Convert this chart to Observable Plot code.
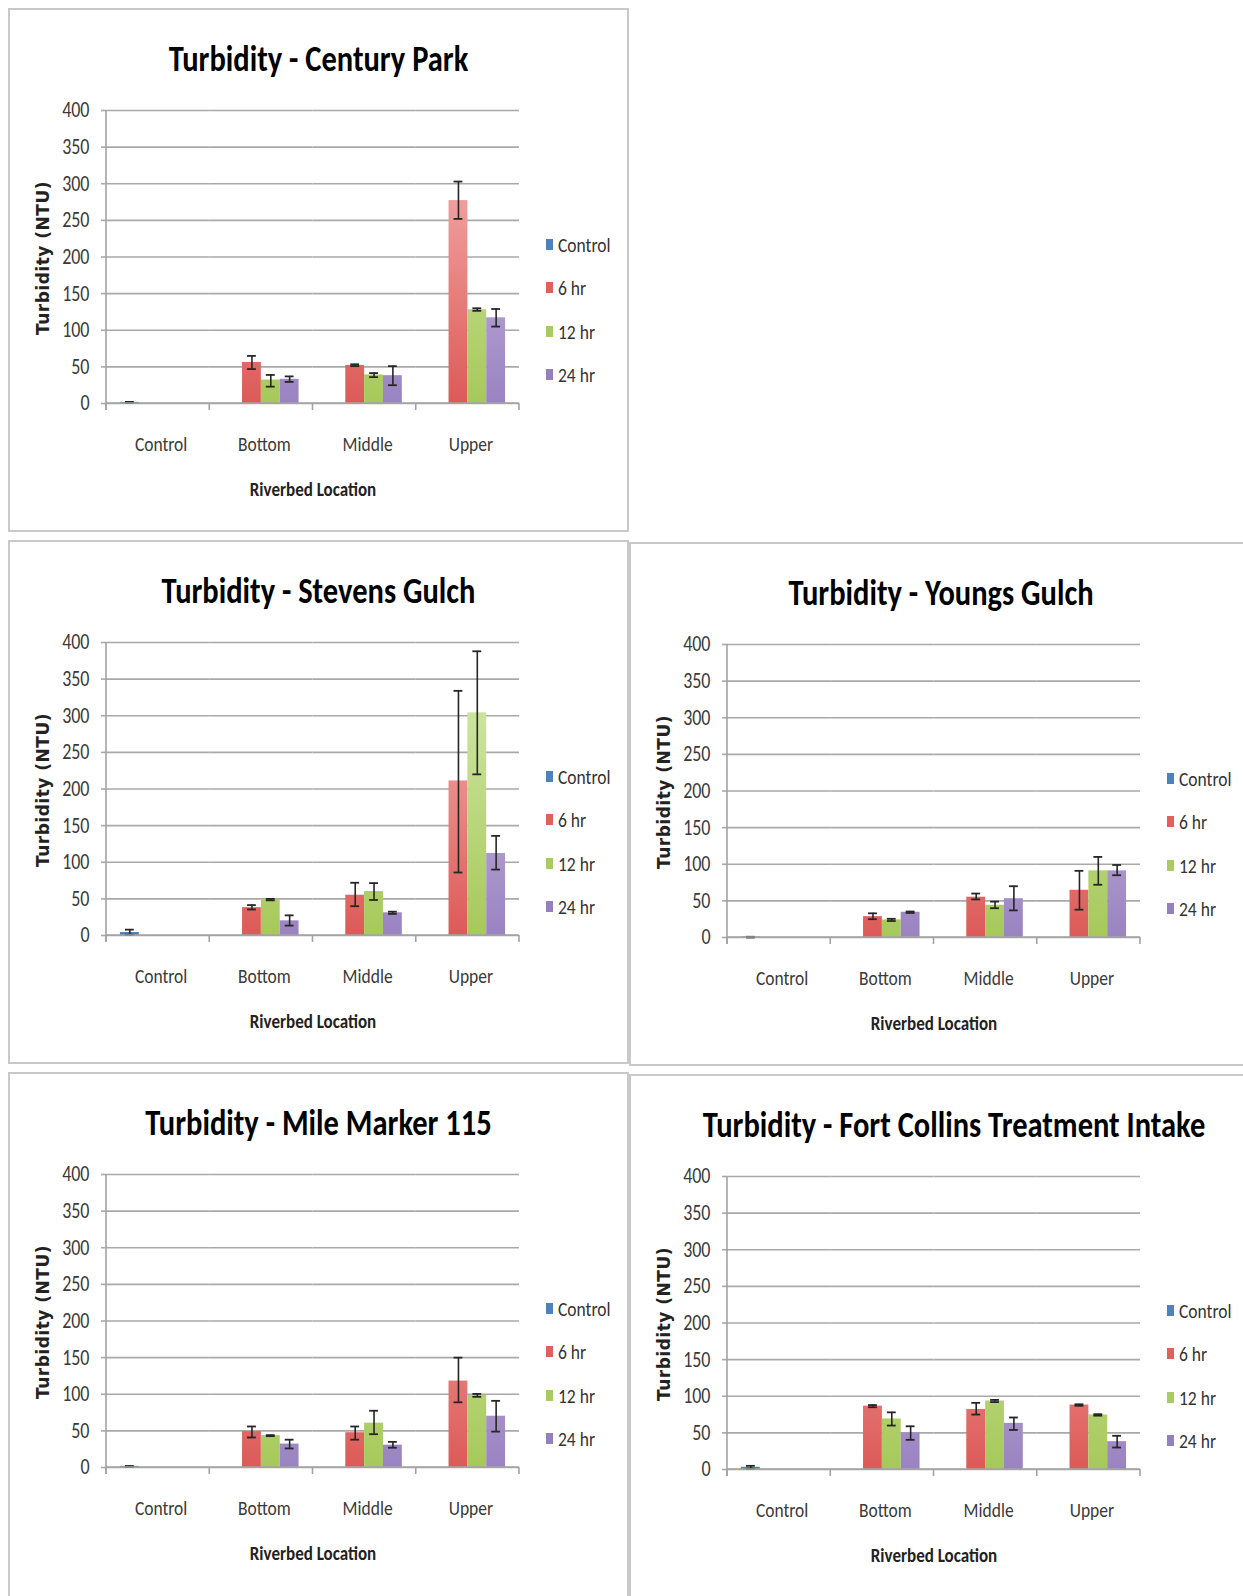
<!DOCTYPE html>
<html>
<head>
<meta charset="utf-8">
<script src="https://cdn.jsdelivr.net/npm/d3@7"></script>
<script src="https://cdn.jsdelivr.net/npm/@observablehq/plot@0.6"></script>
<style>
  html, body { margin: 0; padding: 0; background: #fff; }
  #root { position: relative; width: 1243px; height: 1596px; overflow: hidden; background: #fff; }
  .panel { position: absolute; background: #fff; box-shadow: inset 0 0 0 2px #c9c9c9; }
  .panel svg.chart { position: absolute; left: 0; top: 0; overflow: visible; }
  .f { font-family: Carlito, "Liberation Sans Narrow", sans-serif; }
  .title { position: absolute; left: 0; top: 33px; text-align: center; font-weight: bold; font-size: 30.5px; line-height: 36px; color: #000; white-space: nowrap; transform: scaleY(1.2); }
  .ylab { position: absolute; width: 220px; height: 20px; line-height: 20px; text-align: center; transform: rotate(-90deg);
          font-family: "DejaVu Sans", sans-serif; font-weight: bold; font-size: 17px; letter-spacing: 0.5px; color: #222; white-space: nowrap; }
  .xlab { position: absolute; width: 300px; text-align: center; font-weight: bold; font-size: 17px; line-height: 22px; color: #222; white-space: nowrap; transform: scaleY(1.2); }
  .leg { position: absolute; height: 24px; line-height: 24px; font-size: 17.5px; color: #333; white-space: nowrap; }
  .leg .sw { position: absolute; left: 0; top: 6px; width: 7px; height: 11px; }
  .leg .lt { position: absolute; left: 12px; top: 0; transform: scaleY(1.2); }
</style>
</head>
<body>
<div id="root"></div>
<svg width="0" height="0" style="position:absolute">
  <defs id="gradDefs"></defs>
</svg>
<script>
// ---------------- data ----------------
const locations = ["Control", "Bottom", "Middle", "Upper"];
const seriesNames = ["Control", "6 hr", "12 hr", "24 hr"];
const siteNames = ["Century Park", "Stevens Gulch", "Youngs Gulch", "Mile Marker 115", "Fort Collins Treatment Intake"];
const yTicks = [0, 50, 100, 150, 200, 250, 300, 350, 400];

// Control bar per site: [mean, low, high]
const cpControl = [1.5, 1.0, 2.2];
const sgControl = [4, 1, 8];
const ygControl = [0.5, 0, 1];
const mmControl = [1.5, 1, 2];
const fcControl = [3, 1, 5];

// rows: 6 hr, 12 hr, 24 hr ; columns: Bottom, Middle, Upper
const cpMean = [[56, 52, 277], [32, 39, 128], [33, 38, 117]];
const cpLow  = [[47, 51, 252], [23, 36, 126.5], [29.5, 25, 105]];
const cpHigh = [[65, 53.5, 303], [39, 41.5, 130], [37, 51, 129]];

const sgMean = [[38, 55, 211], [49, 60, 304], [20, 31, 112]];
const sgLow  = [[35.5, 40, 86], [48, 48.5, 220], [13.5, 29.5, 90]];
const sgHigh = [[41.5, 72, 334], [50, 71.5, 388], [27.5, 32.5, 136]];

const ygMean = [[28.5, 55, 64.5], [24, 44, 91], [34.5, 53, 91]];
const ygLow  = [[25, 52, 38], [22.5, 40, 72], [33.5, 37, 85]];
const ygHigh = [[33, 60, 91], [25.5, 49, 110], [35.5, 70, 99]];

const mmMean = [[49, 47.5, 118], [43.5, 60.5, 98.5], [32, 30.5, 70]];
const mmLow  = [[41, 38, 89], [42.8, 45.5, 96.5], [26, 27, 49]];
const mmHigh = [[56, 56, 150], [44.2, 77.5, 100.5], [38, 35, 91]];

const fcMean = [[86.5, 82, 88], [69, 93.5, 74.5], [50, 63, 38]];
const fcLow  = [[85, 75, 87], [60, 92, 73.5], [40.5, 54, 30]];
const fcHigh = [[88, 91, 89], [78, 95, 75.5], [59, 71, 46]];

// ---------------- styles / layout ----------------
const FONT = 'Carlito, "Liberation Sans Narrow", sans-serif';
const seriesColors = {
  "Control": ["#4a7dbb", "#8fb3de"],
  "6 hr":    ["#dc5a57", "#f8bcbb"],
  "12 hr":   ["#a6c95a", "#d9ecb2"],
  "24 hr":   ["#9a83c1", "#d7cde8"]
};
const legendColors = {"Control": "#4f81bd", "6 hr": "#e0605d", "12 hr": "#a9cb62", "24 hr": "#9480bd"};

const layout = [
  {left: 8,   top: 8,    width: 621, height: 524},
  {left: 8,   top: 540,  width: 621, height: 524},
  {left: 629, top: 542,  width: 624, height: 524},
  {left: 8,   top: 1072, width: 621, height: 540},
  {left: 629, top: 1074, width: 650, height: 540}
];
const siteData = [
  [cpControl, cpMean, cpLow, cpHigh],
  [sgControl, sgMean, sgLow, sgHigh],
  [ygControl, ygMean, ygLow, ygHigh],
  [mmControl, mmMean, mmLow, mmHigh],
  [fcControl, fcMean, fcLow, fcHigh]
];

// gradients (vertical, plot-space)
const defs = d3.select("#gradDefs");
const gradId = s => "g" + s.replace(/\s+/g, "");
seriesNames.forEach(s => {
  const g = defs.append("linearGradient").attr("id", gradId(s))
    .attr("gradientUnits", "userSpaceOnUse").attr("x1", 0).attr("x2", 0).attr("y1", 395).attr("y2", 102);
  g.append("stop").attr("offset", "0%").attr("stop-color", seriesColors[s][0]);
  g.append("stop").attr("offset", "100%").attr("stop-color", seriesColors[s][1]);
});

const W = 620, H = 524, ML = 98, MR = 109, MT = 102, MB = 129;

function makeChart(control, mean, low, high) {
  const rows = [{loc: locations[0], series: seriesNames[0], value: control[0], lo: control[1], hi: control[2]}];
  for (let s = 0; s < 3; s++) {
    for (let l = 0; l < 3; l++) {
      rows.push({loc: locations[l + 1], series: seriesNames[s + 1], value: mean[s][l], lo: low[s][l], hi: high[s][l]});
    }
  }
  const chart = Plot.plot({
    width: W, height: H,
    marginLeft: ML, marginRight: MR, marginTop: MT, marginBottom: MB,
    style: {fontFamily: FONT, fontSize: "18px", color: "#3a3a3a", background: "transparent", overflow: "visible"},
    fx: {domain: locations, padding: 0, round: false, label: null, axis: null},
    x: {domain: seriesNames, paddingInner: 0, paddingOuter: 0.74, round: false, axis: null},
    y: {domain: [0, 400], axis: null},
    marks: [
      Plot.gridY({ticks: yTicks, stroke: "#a9a9a9", strokeOpacity: 1, strokeWidth: 1.6}),
      Plot.axisY({ticks: yTicks, tickSize: 5, tickPadding: 12, stroke: "#a9a9a9", strokeWidth: 1.6, label: null, fontSize: 18, fill: "#3a3a3a"}),
      Plot.axisFx({anchor: "bottom", tickSize: 0, tickPadding: 33, label: null, fontSize: 17.5, dx: 3, fill: "#3a3a3a"}),
      ...seriesNames.map(s => Plot.barY(rows.filter(d => d.series === s), {
        fx: "loc", x: "series", y: "value", fill: `url(#${gradId(s)})`
      })),
      Plot.ruleX(rows, {fx: "loc", x: "series", y1: "lo", y2: "hi", stroke: "#262626", strokeWidth: 1.6}),
      Plot.tickY(rows, {fx: "loc", x: "series", y: "lo", stroke: "#262626", strokeWidth: 1.8, insetLeft: 5, insetRight: 5}),
      Plot.tickY(rows, {fx: "loc", x: "series", y: "hi", stroke: "#262626", strokeWidth: 1.8, insetLeft: 5, insetRight: 5})
    ]
  });
  chart.classList.add("chart");
  // stretch tick labels vertically like the original (tall, narrow glyphs)
  d3.select(chart).selectAll("text").each(function() {
    const tr = this.getAttribute("transform");
    if (tr && tr.startsWith("translate")) this.setAttribute("transform", tr + " scale(1,1.2)");
  });
  // Excel-style axis lines and category boundary ticks, placed with Plot's own scales
  const fx = chart.scale("fx"), y = chart.scale("y");
  const xs = locations.map(l => fx.apply(l));
  xs.push(xs[xs.length - 1] + fx.bandwidth);
  const y0 = y.apply(0), yTop = y.apply(400);
  const g = d3.select(chart).append("g").attr("stroke", "#a3a3a3").attr("stroke-width", 1.6);
  g.append("line").attr("x1", xs[0]).attr("x2", xs[xs.length - 1]).attr("y1", y0).attr("y2", y0);
  g.append("line").attr("x1", xs[0]).attr("x2", xs[0]).attr("y1", y0 + 7).attr("y2", yTop);
  xs.forEach(x => g.append("line").attr("x1", x).attr("x2", x).attr("y1", y0).attr("y2", y0 + 7));
  return chart;
}

const root = document.getElementById("root");
siteNames.forEach((site, i) => {
  const L = layout[i];
  const p = document.createElement("div");
  p.className = "panel f";
  Object.assign(p.style, {left: L.left + "px", top: L.top + "px", width: L.width + "px", height: L.height + "px"});
  root.appendChild(p);

  const [control, mean, low, high] = siteData[i];
  p.appendChild(makeChart(control, mean, low, high));

  const t = document.createElement("div");
  t.className = "title f";
  t.style.width = L.width + "px";
  t.textContent = "Turbidity - " + site;
  p.appendChild(t);

  const yl = document.createElement("div");
  yl.className = "ylab";
  yl.style.left = (35 - 110) + "px";
  yl.style.top = (250 - 10) + "px";
  yl.textContent = "Turbidity (NTU)";
  p.appendChild(yl);

  const xl = document.createElement("div");
  xl.className = "xlab f";
  xl.style.left = (305 - 150) + "px";
  xl.style.top = (471) + "px";
  xl.textContent = "Riverbed Location";
  p.appendChild(xl);

  seriesNames.forEach((s, k) => {
    const it = document.createElement("div");
    it.className = "leg f";
    it.style.left = "538px";
    it.style.top = (225 + k * 43.3) + "px";
    const sw = document.createElement("span"); sw.className = "sw"; sw.style.background = legendColors[s];
    const lt = document.createElement("span"); lt.className = "lt"; lt.textContent = s;
    it.appendChild(sw); it.appendChild(lt);
    p.appendChild(it);
  });
});
</script>
</body>
</html>
